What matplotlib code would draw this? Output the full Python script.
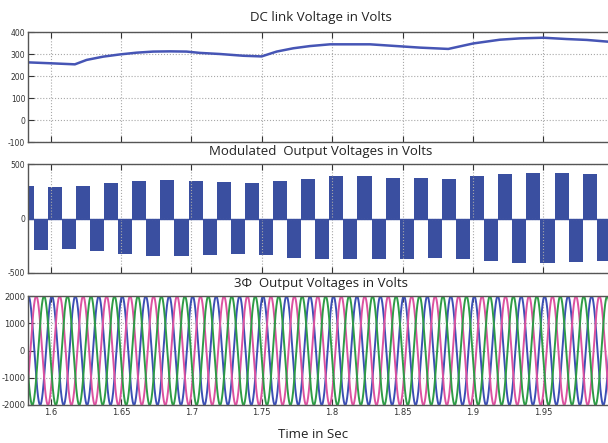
import numpy as np
import matplotlib
matplotlib.use("Agg")
import matplotlib.pyplot as plt

# DC link voltage (time in s, volts)
dc_time = [1.5839, 1.5995, 1.6173, 1.6256, 1.6374, 1.6492, 1.6611, 1.6729,
           1.6848, 1.6966, 1.7061, 1.7203, 1.7369, 1.7499, 1.7606, 1.7724,
           1.7842, 1.7985, 1.8127, 1.8269, 1.8411, 1.8553, 1.8624, 1.8825,
           1.9003, 1.9192, 1.9334, 1.9500, 1.9666, 1.9808, 1.9960]
dc_volts = [262, 258, 253, 273, 288, 298, 306, 311,
            312, 311, 305, 300, 292, 289, 311, 326,
            336, 344, 344, 344, 338, 332, 329, 323,
            348, 365, 371, 374, 368, 364, 356]

# modulated output: one positive and one negative half-cycle block per period
mod_period = 0.02
mod_first_pos = 1.578
mod_pos_peak = [299, 291, 297, 322, 343, 350, 344, 334, 328, 344, 366,
                386, 386, 374, 368, 364, 390, 404, 414, 414, 405]
mod_neg_peak = [-285, -281, -300, -330, -342, -342, -336, -326, -332, -362,
                -370, -376, -376, -372, -363, -370, -392, -406, -412, -402, -394]

# three phase output voltages
ph_amp = 2000
ph_freq = 60.0
ph_t0 = 1.5843          # time of first blue peak
ph_shift = [0, 1 / 3, 2 / 3]   # fraction of a period
ph_colors = ['#3c4fb4', '#dc52a0', '#2e9c46']

xticks = [1.6, 1.65, 1.7, 1.75, 1.8, 1.85, 1.9, 1.95]
xlim = (1.584, 2.0)

tick_font = ['Liberation Sans Narrow', 'DejaVu Sans']
title_font = ['Open Sans', 'DejaVu Sans']

fig = plt.figure(figsize=(6.08, 4.43), dpi=100)
W, H = 608.0, 443.0
left, right = 28.0, 613.7


def make_ax(top, bottom):
    ax = fig.add_axes([left / W, 1 - bottom / H, (right - left) / W, (bottom - top) / H])
    ax.set_xlim(*xlim)
    ax.set_xticks(xticks)
    ax.grid(True, linestyle=':', color='#a8a8a8', linewidth=0.8)
    ax.tick_params(direction='in', length=4, width=0.8, top=True, right=True,
                   labelsize=5.5, colors='#333333', pad=2)
    for s in ax.spines.values():
        s.set_color('#555555')
        s.set_linewidth(1.0)
    return ax


# top panel
ax1 = make_ax(32, 142)
ax1.plot(dc_time, dc_volts, color='#4655b5', linewidth=1.8)
ax1.set_ylim(-100, 400)
ax1.set_yticks([400, 300, 200, 100, 0, -100])
ax1.set_yticklabels(['400', '300', '200', '100', '0', '-100'], family=tick_font)
ax1.set_xticklabels([])

# middle panel
ax2 = make_ax(164, 273)
pos_starts = [mod_first_pos + i * mod_period for i in range(len(mod_pos_peak))]
neg_starts = [s + mod_period / 2 for s in pos_starts[:len(mod_neg_peak)]]
ax2.bar(pos_starts, mod_pos_peak, width=mod_period / 2, align='edge',
        color='#3a4fa0', linewidth=0)
ax2.bar(neg_starts, mod_neg_peak, width=mod_period / 2, align='edge',
        color='#3a4fa0', linewidth=0)
ax2.axhline(0, color='#3a4fa0', linewidth=1.0)
ax2.set_ylim(-500, 500)
ax2.set_yticks([500, 0, -500])
ax2.set_yticklabels(['500', '0', '-500'], family=tick_font)
ax2.set_xticklabels([])

# bottom panel
ax3 = make_ax(296, 405)
t = np.linspace(xlim[0], xlim[1], 6000)
for shift, col in zip(ph_shift, ph_colors):
    ax3.plot(t, ph_amp * np.cos(2 * np.pi * ph_freq * (t - ph_t0) - 2 * np.pi * shift),
             color=col, linewidth=1.4)
ax3.set_ylim(-2000, 2000)
ax3.set_yticks([2000, 1000, 0, -1000, -2000])
ax3.set_yticklabels(['2000', '1000', '0', '-1000', '-2000'], family=tick_font,
                    fontsize=6)
ax3.set_xticklabels([str(v) for v in xticks], family=tick_font, fontsize=6)

xc = (left + right) / 2 / W
fig.text(xc, 1 - 18 / H, 'DC link Voltage in Volts', ha='center', va='center',
         fontsize=9.5, family=title_font, color='#222222')
fig.text(xc, 1 - 151 / H, 'Modulated  Output Voltages in Volts', ha='center', va='center',
         fontsize=9.5, family=title_font, color='#222222')
fig.text(xc, 1 - 284 / H, '3\u03a6  Output Voltages in Volts', ha='center', va='center',
         fontsize=9.5, family=title_font, color='#222222')
fig.text(0.515, 1 - 435 / H, 'Time in Sec', ha='center', va='center',
         fontsize=9.5, family=title_font, color='#222222')

fig.savefig('out.png', dpi=100)
